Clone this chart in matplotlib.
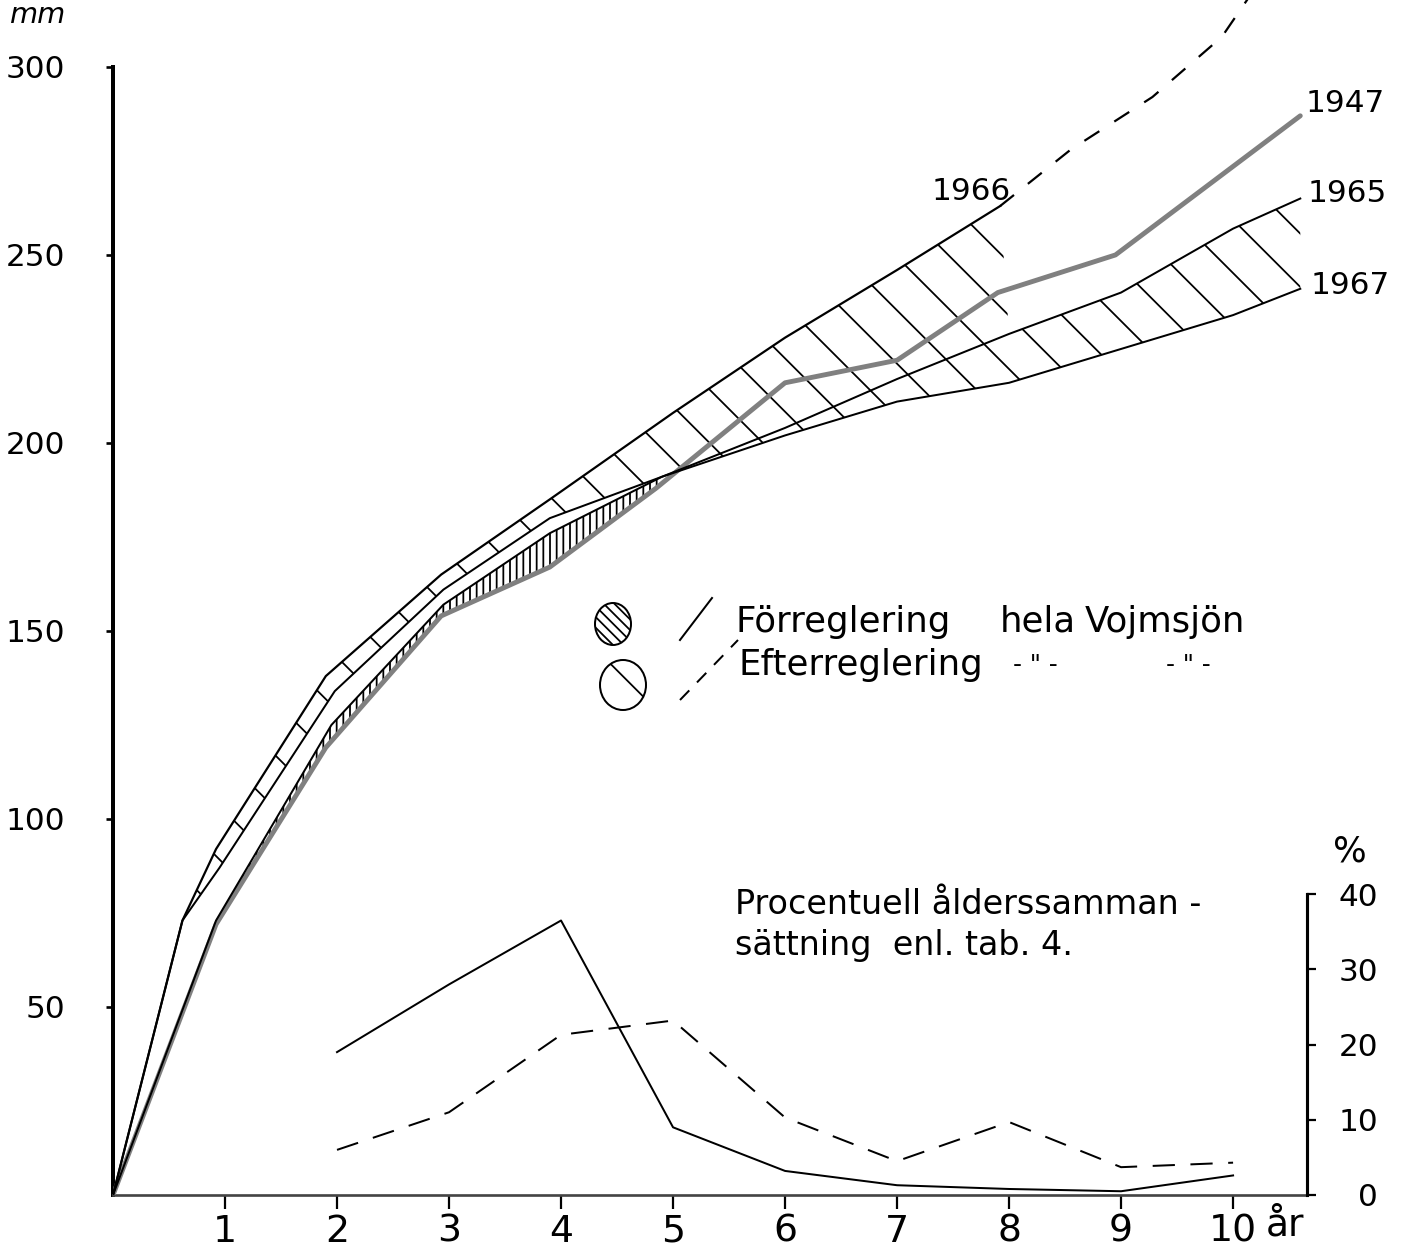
import numpy as np
import matplotlib
matplotlib.use("Agg")
import matplotlib.pyplot as plt
from matplotlib.patches import Ellipse, Polygon
from matplotlib.lines import Line2D

# ---------------- data ----------------
# growth curves: age (years) -> length (mm)
x_1966 = [0, 0.62, 0.92, 1.9, 2.93, 3.9, 5.0, 6.0, 7.0, 7.92]
y_1966 = [0, 73, 92, 138, 165, 185, 208, 228, 246, 263]
x_1966_ext = [7.92, 8.55, 9.28, 9.9, 10.45]
y_1966_ext = [263, 278, 292, 308, 332]
x_1965 = [0, 0.62, 0.95, 1.98, 2.95, 3.9, 4.9, 6.0, 7.0, 8.0, 9.0, 10.0, 10.6]
y_1965 = [0, 73, 87, 134, 161, 180, 191, 204, 217, 229, 240, 257, 265]
x_1967 = [0, 0.92, 1.95, 2.95, 3.9, 4.9, 6.0, 7.0, 8.0, 9.0, 10.0, 10.6]
y_1967 = [0, 73, 125, 157, 176, 191, 202, 211, 216, 225, 234, 241]
x_1947 = [0, 0.92, 1.9, 2.93, 3.9, 4.85, 6.0, 7.0, 7.9, 8.95, 10.6]
y_1947 = [0, 72, 119, 154, 167, 188, 216, 222, 240, 250, 287]

# percentage age composition
pct_age = [2, 3, 4, 5, 6, 7, 8, 9, 10]
pct_pre = [19, 28, 36.5, 9, 3.2, 1.3, 0.8, 0.5, 2.6]
pct_post = [6, 11, 21.3, 23.2, 10.3, 4.5, 9.7, 3.7, 4.3]

x_ticks = list(range(1, 11))
x_ticklabels = [str(v) for v in x_ticks]
y_ticks = [50, 100, 150, 200, 250, 300]
y_ticklabels = [str(v) for v in y_ticks]
pct_ticks = [0, 10, 20, 30, 40]
pct_ticklabels = [str(v) for v in pct_ticks]

# ---------------- style ----------------
plt.rcParams['font.family'] = ['DejaVu Sans']
plt.rcParams['hatch.linewidth'] = 0.8
plt.rcParams['lines.scale_dashes'] = False

W, H, DPI = 1402, 1254, 160
fig = plt.figure(figsize=(W / DPI, H / DPI), dpi=DPI)


def fx(px):
    return px / W


def fy(py):
    return 1 - py / H


ax = fig.add_axes([fx(113), fy(1195), fx(1307) - fx(113), fy(0) - fy(1195)])
ax.set_xlim(0, 10.66)
ax.set_ylim(0, 317.8)
ax.patch.set_alpha(0)

ax2 = ax.twinx()
ax2.set_ylim(0, 158.9)

for s in ['top', 'right']:
    ax.spines[s].set_visible(False)
ax.spines['left'].set_bounds(0, 300)
ax.spines['left'].set_linewidth(1.8)
ax.spines['bottom'].set_linewidth(1.2)
ax.spines['bottom'].set_color('#444444')
for s in ['top', 'left', 'bottom']:
    ax2.spines[s].set_visible(False)
ax2.spines['right'].set_bounds(0, 40)
ax2.spines['right'].set_linewidth(1.4)

ax.set_xticks(x_ticks)
ax.set_xticklabels(x_ticklabels)
ax.tick_params(axis='x', length=6.5, width=1.0, pad=2, labelsize=17)
ax.set_yticks(y_ticks)
ax.set_yticklabels(y_ticklabels)
ax.tick_params(axis='y', length=3, width=1.2, pad=18.5, labelsize=14)

ax2.set_yticks(pct_ticks)
ax2.set_yticklabels(pct_ticklabels)
ax2.tick_params(axis='y', length=4, width=1.0, pad=28, labelsize=14)
for lab in ax2.get_yticklabels():
    lab.set_horizontalalignment('right')


def seg(xs, ys, lo, hi):
    return [(a, b) for a, b in zip(xs, ys) if lo <= a <= hi]


# sparse hatched band (after regulation)
upper = seg(x_1966, y_1966, x_1966[1], x_1966[-1]) + seg(x_1965, y_1965, x_1966[-1] + 0.01, x_1965[-1])
lower = seg(x_1967, y_1967, x_1967[5], x_1967[-1])[::-1] + seg(x_1965, y_1965, x_1965[1], x_1965[6])[::-1]
ax.add_patch(Polygon(upper + lower, closed=True, facecolor='none', edgecolor='black',
                     lw=0, hatch='\\', zorder=1))

# dense hatched band (before regulation)
dense = seg(x_1967, y_1967, x_1967[1], x_1967[5]) + seg(x_1947, y_1947, x_1947[1], x_1947[5])[::-1]
ax.add_patch(Polygon(dense, closed=True, facecolor='none', edgecolor='black',
                     lw=0, hatch='||||', zorder=1))

# growth curves
ax.plot(x_1947, y_1947, color='#808080', lw=2.2, solid_capstyle='round', zorder=3)
ax.plot(x_1966, y_1966, color='black', lw=1.0, zorder=4)
ax.plot(x_1966_ext, y_1966_ext, color='black', lw=1.0, dashes=(8, 8), zorder=4)
ax.plot(x_1965, y_1965, color='black', lw=0.9, zorder=4)
ax.plot(x_1967, y_1967, color='black', lw=0.9, zorder=4)

# percentage curves
ax2.plot(pct_age, pct_pre, color='black', lw=0.9)
ax2.plot(pct_age, pct_post, color='black', lw=0.9, dashes=(10, 7))

# labels
fig.text(fx(38), fy(15), 'mm', style='italic', fontsize=13, ha='center', va='center')
fig.text(fx(1285), fy(1226), 'år', fontsize=17, ha='center', va='center')
fig.text(fx(1350), fy(852), '%', fontsize=16, ha='center', va='center')
fig.text(fx(971), fy(191), '1966', fontsize=14, ha='center', va='center')
fig.text(fx(1345), fy(104), '1947', fontsize=14, ha='center', va='center')
fig.text(fx(1347), fy(194), '1965', fontsize=14, ha='center', va='center')
fig.text(fx(1350), fy(285), '1967', fontsize=14, ha='center', va='center')

# legend
fig.add_artist(Ellipse((fx(613), fy(624)), 36 / W, 42 / H, transform=fig.transFigure,
                       facecolor='none', edgecolor='black', lw=0.9, hatch='\\\\\\\\\\'))
fig.add_artist(Ellipse((fx(623), fy(685)), 46 / W, 50 / H, transform=fig.transFigure,
                       facecolor='none', edgecolor='black', lw=0.9, hatch='\\'))
fig.add_artist(Line2D([fx(680), fx(712)], [fy(640), fy(598)], transform=fig.transFigure,
                      color='black', lw=0.9))
fig.add_artist(Line2D([fx(680), fx(738)], [fy(700), fy(640)], transform=fig.transFigure,
                      color='black', lw=0.9, dashes=(6, 5)))
fig.text(fx(735), fy(622), 'Förreglering', fontsize=16, va='center')
fig.text(fx(1000), fy(622), 'hela', fontsize=16, va='center')
fig.text(fx(1085), fy(622), 'Vojmsjön', fontsize=16, va='center')
fig.text(fx(738), fy(665), 'Efterreglering', fontsize=16, va='center')
fig.text(fx(1035), fy(665), '- " -', fontsize=11, va='center', ha='center')
fig.text(fx(1188), fy(665), '- " -', fontsize=11, va='center', ha='center')

fig.text(fx(735), fy(905), 'Procentuell ålderssamman -', fontsize=15, va='center')
fig.text(fx(735), fy(945), 'sättning  enl. tab. 4.', fontsize=15, va='center')

fig.savefig('out.png', dpi=DPI, facecolor='white')
